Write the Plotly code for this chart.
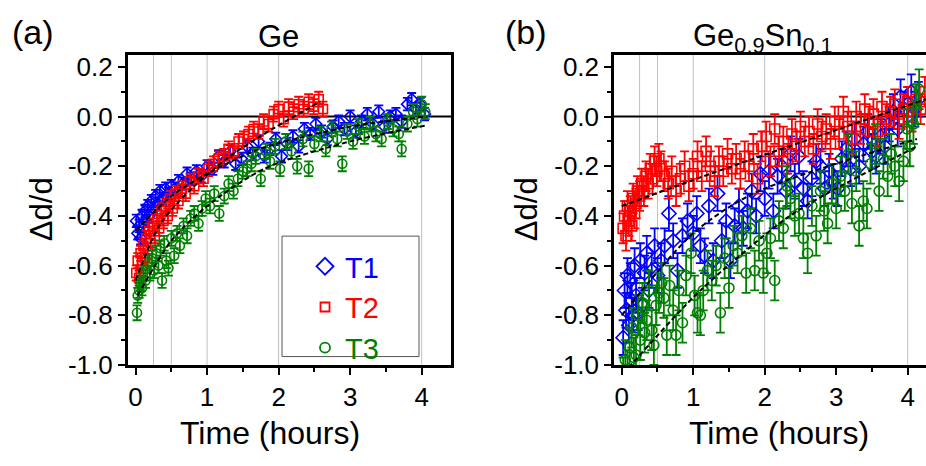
import plotly.graph_objects as go

W, H = 926, 466
FONT = "Liberation Sans, Arial, sans-serif"
BLUE, RED, GREEN = "#0000FF", "#FF0000", "#008000"

# ---------------- Panel (a): Ge ----------------
a_t1_t = [0.01,0.03,0.05,0.07,0.09,0.11,0.13,0.15,0.17,0.19,0.22,0.25,0.28,0.31,0.34,0.38,0.42,0.46,0.50,0.55,
          0.60,0.66,0.72,0.78,0.85,0.92,1.00,1.08,1.16,1.24,1.32,1.40,1.48,1.56,1.64,1.72,1.80,1.88,1.96,2.04,
          2.12,2.20,2.28,2.36,2.44,2.52,2.60,2.68,2.76,2.84,2.92,3.00,3.08,3.16,3.24,3.32,3.40,3.48,3.56,3.64,
          3.72,3.80,3.86,3.92,3.98,4.04]
a_t1_v = [-0.42,-0.47,-0.44,-0.49,-0.40,-0.45,-0.38,-0.42,-0.36,-0.40,-0.34,-0.37,-0.32,-0.35,-0.30,-0.33,-0.29,-0.31,-0.28,-0.29,
          -0.26,-0.27,-0.23,-0.25,-0.22,-0.24,-0.20,-0.21,-0.16,-0.18,-0.14,-0.19,-0.17,-0.12,-0.15,-0.10,-0.16,-0.13,-0.09,-0.16,
          -0.11,-0.08,-0.12,-0.05,-0.07,-0.03,-0.06,-0.09,-0.04,-0.02,-0.05,0.00,-0.06,-0.02,0.01,-0.03,0.02,-0.04,0.00,0.01,
          -0.02,0.05,0.07,0.03,0.05,0.01]
a_t1_err = 0.025

a_t2_t = [0.01,0.03,0.05,0.07,0.09,0.11,0.13,0.15,0.17,0.19,0.21,0.24,0.27,0.30,0.33,0.36,0.39,0.42,0.45,0.48,
          0.52,0.56,0.60,0.65,0.70,0.76,0.82,0.88,0.95,1.02,1.09,1.16,1.23,1.30,1.37,1.44,1.51,1.58,1.65,1.72,
          1.79,1.86,1.93,2.00,2.07,2.14,2.21,2.28,2.35,2.42,2.49,2.56,2.62]
a_t2_v = [-0.63,-0.58,-0.65,-0.55,-0.60,-0.52,-0.57,-0.49,-0.54,-0.46,-0.51,-0.44,-0.48,-0.41,-0.45,-0.38,-0.42,-0.36,-0.40,-0.33,
          -0.37,-0.31,-0.34,-0.29,-0.31,-0.26,-0.28,-0.24,-0.25,-0.21,-0.19,-0.17,-0.16,-0.13,-0.14,-0.10,-0.09,-0.07,-0.05,-0.06,
          -0.02,-0.03,0.01,0.03,-0.01,0.04,0.02,0.05,0.03,0.06,0.04,0.07,0.03]
a_t2_err = 0.03

a_t3_t = [0.02,0.03,0.05,0.07,0.09,0.11,0.14,0.17,0.20,0.23,0.26,0.29,0.32,0.35,0.37,0.40,0.43,0.46,0.50,0.54,
          0.58,0.62,0.67,0.72,0.77,0.82,0.88,0.93,0.98,1.04,1.10,1.17,1.24,1.30,1.37,1.43,1.50,1.56,1.62,1.68,
          1.75,1.82,1.88,1.95,2.02,2.10,2.18,2.26,2.34,2.42,2.50,2.58,2.66,2.74,2.82,2.89,2.96,3.04,3.12,3.20,
          3.28,3.36,3.44,3.52,3.60,3.68,3.72,3.80,3.88,3.94,4.00,4.05]
a_t3_v = [-0.79,-0.72,-0.70,-0.67,-0.69,-0.63,-0.66,-0.59,-0.63,-0.57,-0.62,-0.55,-0.60,-0.53,-0.66,-0.51,-0.58,-0.61,-0.49,-0.56,
          -0.47,-0.52,-0.44,-0.48,-0.41,-0.39,-0.43,-0.37,-0.33,-0.36,-0.31,-0.39,-0.32,-0.27,-0.30,-0.25,-0.22,-0.21,-0.19,-0.16,
          -0.25,-0.14,-0.18,-0.12,-0.21,-0.10,-0.14,-0.20,-0.09,-0.21,-0.11,-0.07,-0.13,-0.05,-0.09,-0.19,-0.06,-0.10,-0.04,-0.08,
          -0.03,-0.07,-0.09,-0.02,-0.05,-0.07,-0.13,-0.03,0.02,-0.01,0.05,0.02]
a_t3_err = 0.03

a_fit1_t = [0.0, 0.5, 1.0, 1.74, 3.0, 4.07]
a_fit1_v = [-0.46, -0.32, -0.23, -0.13, -0.04, 0.0]
a_fit2_t = [0.0, 0.35, 0.82, 1.32, 1.74, 2.58]
a_fit2_v = [-0.66, -0.43, -0.28, -0.16, -0.08, 0.06]
a_fit3_t = [0.03, 0.5, 1.0, 1.8, 3.0, 4.07]
a_fit3_v = [-0.72, -0.50, -0.36, -0.21, -0.10, -0.035]

# ---------------- Panel (b): Ge0.9Sn0.1 ----------------
b_t1_t = [0.02,0.04,0.06,0.08,0.10,0.12,0.14,0.16,0.18,0.20,0.23,0.26,0.29,0.32,0.35,0.38,0.42,0.46,0.50,0.55,
          0.60,0.66,0.72,0.78,0.85,0.92,1.00,1.05,1.10,1.16,1.22,1.28,1.34,1.40,1.46,1.52,1.58,1.64,1.70,1.76,
          1.82,1.88,1.94,2.00,2.06,2.12,2.18,2.24,2.30,2.36,2.42,2.48,2.54,2.60,2.66,2.72,2.78,2.84,2.90,2.96,
          3.02,3.08,3.14,3.20,3.26,3.32,3.38,3.44,3.50,3.56,3.62,3.68,3.74,3.80,3.86,3.90,3.95,4.00,4.05,4.10,4.15]
b_t1_v = [-0.89,-0.70,-0.78,-0.64,-0.84,-0.66,-0.74,-0.80,-0.60,-0.72,-0.79,-0.58,-0.76,-0.63,-0.55,-0.70,-0.62,-0.52,-0.64,-0.58,
          -0.52,-0.39,-0.50,-0.62,-0.48,-0.42,-0.47,-0.39,-0.52,-0.56,-0.36,-0.58,-0.31,-0.50,-0.42,-0.58,-0.44,-0.36,-0.45,-0.38,
          -0.30,-0.40,-0.23,-0.33,-0.22,-0.38,-0.24,-0.20,-0.30,-0.15,-0.26,-0.16,-0.29,-0.34,-0.25,-0.18,-0.20,-0.29,-0.22,-0.26,
          -0.29,-0.17,-0.13,-0.21,-0.09,-0.20,-0.11,-0.06,-0.14,-0.16,-0.08,-0.12,-0.03,0.02,-0.05,0.08,0.03,0.05,0.10,0.03,0.07]
b_t1_err = 0.07

b_t2_t = [0.02,0.04,0.06,0.08,0.10,0.12,0.14,0.16,0.18,0.20,0.22,0.25,0.28,0.31,0.34,0.37,0.40,0.43,0.46,0.49,
          0.52,0.55,0.60,0.65,0.70,0.76,0.82,0.88,0.94,1.00,1.06,1.12,1.18,1.24,1.30,1.36,1.42,1.48,1.54,1.60,
          1.66,1.72,1.78,1.84,1.90,1.96,2.02,2.08,2.14,2.20,2.26,2.32,2.38,2.44,2.50,2.56,2.62,2.68,2.74,2.80,
          2.86,2.92,2.98,3.04,3.10,3.16,3.22,3.28,3.34,3.40,3.46,3.52,3.58,3.64,3.70,3.76,3.82,3.88,3.94,4.00,
          4.06,4.12,4.18,4.24]
b_t2_v = [-0.45,-0.40,-0.48,-0.36,-0.42,-0.38,-0.44,-0.33,-0.39,-0.35,-0.30,-0.32,-0.27,-0.30,-0.24,-0.27,-0.21,-0.25,-0.18,-0.22,
          -0.17,-0.20,-0.24,-0.27,-0.22,-0.30,-0.25,-0.20,-0.28,-0.23,-0.16,-0.24,-0.14,-0.20,-0.26,-0.18,-0.22,-0.15,-0.21,-0.17,
          -0.23,-0.16,-0.20,-0.13,-0.25,-0.12,-0.08,-0.18,-0.05,-0.14,-0.10,-0.17,-0.07,-0.12,-0.04,-0.10,-0.06,-0.13,-0.03,-0.08,
          -0.05,-0.11,-0.02,-0.07,0.02,-0.04,-0.09,0.00,-0.05,0.03,-0.02,0.01,-0.06,0.04,-0.01,0.02,0.05,-0.03,0.03,0.06,
          0.00,0.07,0.03,0.10]
b_t2_err = 0.06

b_t3_t = [0.02,0.05,0.08,0.11,0.14,0.17,0.20,0.23,0.26,0.29,0.32,0.35,0.38,0.42,0.45,0.48,0.52,0.56,0.59,0.63,
          0.67,0.72,0.76,0.80,0.85,0.90,0.97,1.02,1.06,1.10,1.14,1.20,1.26,1.32,1.38,1.44,1.50,1.56,1.62,1.68,
          1.74,1.80,1.86,1.92,1.98,2.03,2.08,2.14,2.20,2.26,2.31,2.36,2.42,2.48,2.54,2.60,2.66,2.72,2.78,2.83,
          2.88,2.94,3.00,3.06,3.12,3.17,3.22,3.28,3.32,3.38,3.43,3.48,3.55,3.60,3.66,3.72,3.77,3.82,3.88,3.94,
          3.99,4.03,4.08,4.12,4.16]
b_t3_v = [-1.05,-0.98,-1.02,-0.93,-0.85,-0.97,-0.96,-0.80,-0.90,-0.75,-0.87,-0.82,-0.70,-0.86,-0.92,-0.76,-0.71,-0.67,-0.73,-0.88,
          -0.68,-0.78,-0.88,-0.70,-0.83,-0.64,-0.55,-0.72,-0.79,-0.80,-0.70,-0.62,-0.66,-0.60,-0.79,-0.57,-0.69,-0.52,-0.55,-0.48,
          -0.63,-0.45,-0.62,-0.50,-0.63,-0.55,-0.49,-0.66,-0.42,-0.45,-0.28,-0.33,-0.40,-0.39,-0.49,-0.55,-0.36,-0.48,-0.30,-0.38,
          -0.43,-0.27,-0.37,-0.24,-0.30,-0.15,-0.35,-0.22,-0.44,-0.34,-0.37,-0.19,-0.11,-0.30,-0.17,-0.24,-0.15,-0.20,-0.26,-0.18,
          -0.05,-0.12,-0.03,0.05,0.11]
b_t3_err = 0.08

b_fit1_t = [0.0, 1.0, 1.84, 4.13]
b_fit1_v = [-0.80, -0.47, -0.31, -0.09]
b_fit2_t = [0.0, 1.05, 1.84, 4.25]
b_fit2_v = [-0.36, -0.25, -0.17, 0.07]
b_fit3_t = [0.10, 1.1, 2.3, 2.87, 4.13]
b_fit3_v = [-1.01, -0.70, -0.41, -0.31, -0.12]

grid_times = [0.25, 0.5, 1, 2, 4]
series_names = ["T1", "T2", "T3"]
x_tick_vals = [0, 1, 2, 3, 4]
y_tick_vals = [0.2, 0.0, -0.2, -0.4, -0.6, -0.8, -1.0]
y_tick_text = ["0.2", "0.0", "-0.2", "-0.4", "-0.6", "-0.8", "-1.0"]

fig = go.Figure()

def add_series(t, v, err, color, symbol, xa, ya, size):
    fig.add_trace(go.Scatter(
        x=t, y=v, mode="markers", xaxis=xa, yaxis=ya, showlegend=False,
        marker=dict(symbol=symbol, size=size, color=color, line=dict(width=1.6)),
        error_y=dict(type="constant", value=err, color=color, thickness=1.8, width=4.5),
    ))

def add_fit(t, v, xa, ya):
    fig.add_trace(go.Scatter(
        x=t, y=v, mode="lines", xaxis=xa, yaxis=ya, showlegend=False,
        line=dict(color="black", width=2, dash="5px,3px", shape="spline", smoothing=0.8),
    ))

add_series(a_t1_t, a_t1_v, a_t1_err, BLUE, "diamond-open", "x", "y", 9)
add_series(a_t2_t, a_t2_v, a_t2_err, RED, "square-open", "x", "y", 9)
add_series(a_t3_t, a_t3_v, a_t3_err, GREEN, "circle-open", "x", "y", 9)
add_fit(a_fit1_t, a_fit1_v, "x", "y")
add_fit(a_fit2_t, a_fit2_v, "x", "y")
add_fit(a_fit3_t, a_fit3_v, "x", "y")

add_series(b_t1_t, b_t1_v, b_t1_err, BLUE, "diamond-open", "x2", "y2", 11)
add_series(b_t2_t, b_t2_v, b_t2_err, RED, "square-open", "x2", "y2", 10)
add_series(b_t3_t, b_t3_v, b_t3_err, GREEN, "circle-open", "x2", "y2", 10)
add_fit(b_fit1_t, b_fit1_v, "x2", "y2")
add_fit(b_fit2_t, b_fit2_v, "x2", "y2")
add_fit(b_fit3_t, b_fit3_v, "x2", "y2")

# legend entries
for name, color, sym, sz in zip(series_names, [BLUE, RED, GREEN],
                                ["diamond-open", "square-open", "circle-open"], [13, 9, 10]):
    fig.add_trace(go.Scatter(
        x=[None], y=[None], mode="markers", xaxis="x", yaxis="y",
        name=f"<span style='color:{color}'>{name}</span>", legendgroup=name,
        marker=dict(symbol=sym, size=sz, color=color, line=dict(width=1.8)),
    ))

def px_x(p):
    return p / W

def px_y(p):
    return 1 - p / H

axis_common = dict(
    showline=True, linecolor="black", linewidth=2.5, ticks="outside", ticklen=7, tickwidth=2,
    tickcolor="black", showgrid=False, zeroline=False,
    tickfont=dict(family=FONT, size=26, color="black"),
)

ydom = [px_y(376.7), px_y(54.5)]
fig.update_layout(
    width=W, height=H, margin=dict(l=0, r=0, t=0, b=0),
    plot_bgcolor="white", paper_bgcolor="white",
    font=dict(family=FONT, color="black"),
    xaxis=dict(domain=[px_x(127.7), px_x(451)], range=[-0.11, 4.41], tickvals=x_tick_vals,
               minor=dict(dtick=0.5, ticks="outside", ticklen=4, tickwidth=2, tickcolor="black"),
               mirror=True, anchor="y", **axis_common),
    yaxis=dict(domain=ydom, range=[-1.0, 0.25], tickvals=y_tick_vals, ticktext=y_tick_text,
               minor=dict(dtick=0.1, ticks="outside", ticklen=4, tickwidth=2, tickcolor="black"),
               mirror=True, anchor="x", **axis_common),
    xaxis2=dict(domain=[px_x(614), 1.0], range=[-0.108, 4.256], tickvals=x_tick_vals,
                minor=dict(dtick=0.5, ticks="outside", ticklen=4, tickwidth=2, tickcolor="black"),
                mirror=True, anchor="y2", **axis_common),
    yaxis2=dict(domain=ydom, range=[-1.0, 0.25], tickvals=y_tick_vals, ticktext=y_tick_text,
                minor=dict(dtick=0.1, ticks="outside", ticklen=4, tickwidth=2, tickcolor="black"),
                mirror=False, anchor="x2", **axis_common),
    legend=dict(x=px_x(305), y=px_y(248), xanchor="left", yanchor="top",
                bgcolor="rgba(0,0,0,0)", borderwidth=0, tracegroupgap=0,
                font=dict(family=FONT, size=29), itemsizing="trace"),
    showlegend=True,
)

shapes = []
for xa, ya in [("x", "y"), ("x2", "y2")]:
    for g in grid_times:
        shapes.append(dict(type="line", xref=xa, yref=f"{ya} domain", x0=g, x1=g, y0=0, y1=1,
                           line=dict(color="#c0c0c0", width=1), layer="below"))
    shapes.append(dict(type="line", xref=f"{xa} domain", yref=ya, x0=0, x1=1, y0=0, y1=0,
                       line=dict(color="black", width=2), layer="below"))
# legend frame
shapes.append(dict(type="rect", xref="paper", yref="paper", x0=px_x(282), x1=px_x(419),
                   y0=px_y(368), y1=px_y(243), line=dict(color="#555555", width=1)))
fig.update_layout(shapes=shapes)

ann = []
def add_text(text, x, y, size, angle=0):
    ann.append(dict(text=text, x=px_x(x), y=px_y(y), xref="paper", yref="paper",
                    showarrow=False, xanchor="center", yanchor="middle", textangle=angle,
                    font=dict(family=FONT, size=size, color="black")))

add_text("(a)", 33, 31, 34)
add_text("(b)", 526, 31, 34)
add_text("Ge", 278, 36, 31)
add_text("Ge<sub>0.9</sub>Sn<sub>0.1</sub>", 763, 37, 31)
add_text("Δd/d", 41, 215, 31, -90)
add_text("Δd/d", 526, 215, 31, -90)
add_text("Time (hours)", 270, 447, 32)
add_text("Time (hours)", 779, 447, 32)
fig.update_layout(annotations=ann)

fig.write_html("out.html")
